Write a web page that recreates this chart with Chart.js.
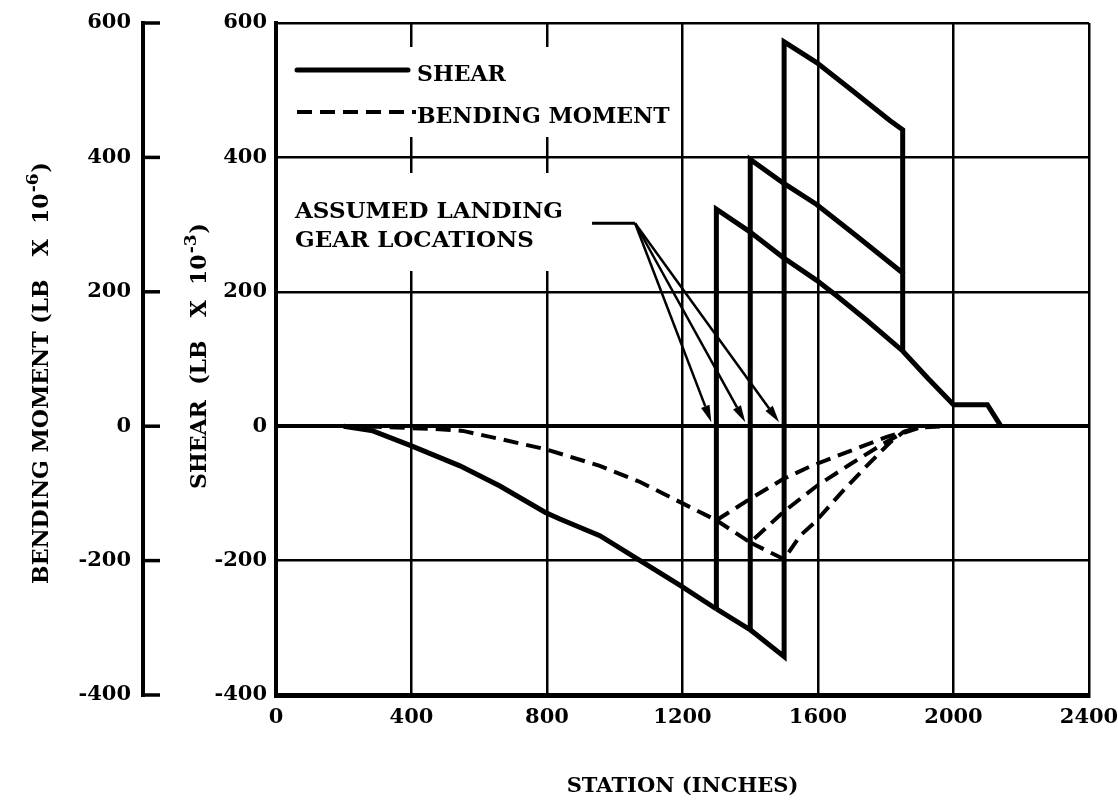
<!DOCTYPE html>
<html>
<head>
<meta charset="utf-8">
<script src="https://cdn.jsdelivr.net/npm/chart.js@4.4.1/dist/chart.umd.min.js"></script>
<style>
  html, body { margin: 0; padding: 0; background: #fff; }
  canvas { display: block; }
</style>
</head>
<body>
<canvas id="loadsChart" width="1118" height="804"></canvas>
<script>
// stations in inches, shear in lb x 10^-3, bending moment in lb x 10^-6
const xTicks = [0, 400, 800, 1200, 1600, 2000, 2400];
const yTicks = [-400, -200, 0, 200, 400, 600];

// shear: common part up to the first gear, then one branch per gear position
const shearLeadX = [200, 286, 398, 543, 661, 794, 838, 956, 1075, 1193, 1300];
const shearLeadY = [0, -7, -29, -59, -89, -128, -138, -163, -200, -237, -272];
const shear1300X = [1300, 1300, 1397, 1497, 1596, 1655, 1743, 1850, 1925, 2000, 2100, 2140];
const shear1300Y = [-272, 323, 290, 251, 217, 194, 158, 112, 71, 32, 32, 0];
const shear1400X = [1300, 1400, 1400, 1497, 1596, 1714, 1850, 1850];
const shear1400Y = [-272, -303, 397, 362, 330, 283, 228, 112];
const shear1500X = [1400, 1500, 1500, 1596, 1700, 1812, 1850, 1850];
const shear1500Y = [-303, -343, 572, 541, 500, 455, 441, 228];

// bending moment, same idea
const momentLeadX = [200, 300, 463, 552, 661, 794, 956, 1075, 1193, 1300];
const momentLeadY = [0, -1, -4, -7, -19, -34, -59, -83, -113, -140];
const moment1300X = [1300, 1400, 1496, 1576, 1694, 1803, 1861, 1900, 1980];
const moment1300Y = [-140, -108, -79, -60, -37, -16, -7, -2, 0];
const moment1400X = [1300, 1400, 1497, 1596, 1694, 1783, 1842, 1900];
const moment1400Y = [-140, -173, -128, -89, -57, -29, -12, -2];
const moment1500X = [1400, 1500, 1547, 1591, 1665, 1744, 1813, 1851, 1900];
const moment1500Y = [-173, -198, -163, -143, -101, -59, -24, -9, -2];

const gearStations = [1300, 1400, 1500];
const leaderX = [933, 1060];
const leaderY = 302;

const FONT = "'DejaVu Serif', 'Liberation Serif', serif";
const INK = '#000';

const pts = (xs, ys) => xs.map((x, i) => ({ x, y: ys[i] }));

const solid = (xs, ys) => ({
  data: pts(xs, ys),
  borderColor: INK,
  borderWidth: 5,
  pointRadius: 0,
  tension: 0,
  borderJoinStyle: 'miter',
});

const dashed = (xs, ys) => ({
  data: pts(xs, ys),
  borderColor: INK,
  borderWidth: 4,
  borderDash: [15, 8],
  pointRadius: 0,
  tension: 0,
});

// rotated title with a raised exponent, reads bottom to top
function verticalTitle(ctx, cx, cy, base, sup, tail) {
  const big = `bold 22px ${FONT}`;
  const small = `bold 17px ${FONT}`;
  ctx.font = big;
  const wBase = ctx.measureText(base).width;
  const wTail = ctx.measureText(tail).width;
  ctx.font = small;
  const wSup = ctx.measureText(sup).width;
  const total = wBase + wSup + wTail + 2;
  ctx.save();
  ctx.translate(cx, cy);
  ctx.rotate(-Math.PI / 2);
  ctx.textAlign = 'left';
  ctx.textBaseline = 'alphabetic';
  let p = -total / 2;
  ctx.font = big;
  ctx.fillText(base, p, 8);
  p += wBase + 1;
  ctx.font = small;
  ctx.fillText(sup, p, -2);
  p += wSup + 1;
  ctx.font = big;
  ctx.fillText(tail, p, 8);
  ctx.restore();
}

// left hand bending moment scale, same spacing as the shear scale
const momentAxis = {
  id: 'momentAxis',
  afterDraw(chart) {
    const { ctx, scales } = chart;
    const y = scales.y;
    const axisX = 143;
    ctx.save();
    ctx.strokeStyle = INK;
    ctx.fillStyle = INK;
    ctx.lineCap = 'butt';
    ctx.lineWidth = 4;
    ctx.beginPath();
    ctx.moveTo(axisX, y.getPixelForValue(600) - 2);
    ctx.lineTo(axisX, y.getPixelForValue(-400) + 2);
    ctx.stroke();

    ctx.font = `bold 21px ${FONT}`;
    ctx.textAlign = 'right';
    ctx.textBaseline = 'middle';
    yTicks.forEach((v) => {
      const py = y.getPixelForValue(v);
      ctx.lineWidth = 3.5;
      ctx.beginPath();
      ctx.moveTo(axisX, py);
      ctx.lineTo(axisX + 17, py);
      ctx.stroke();
      ctx.fillText(String(v), axisX - 12, py);
    });

    verticalTitle(ctx, 40, 373, 'BENDING MOMENT (LB   X  10', '-6', ')');
    verticalTitle(ctx, 198, 356, 'SHEAR  (LB   X  10', '-3', ')');
    ctx.restore();
  },
};

const notes = {
  id: 'notes',
  afterDatasetsDraw(chart) {
    const { ctx, scales, chartArea } = chart;
    const { x, y } = scales;
    const L = chartArea.left;
    const T = chartArea.top;
    ctx.save();

    // legend
    ctx.fillStyle = '#fff';
    ctx.fillRect(L + 4, T + 24, 396, 90);
    ctx.strokeStyle = INK;
    ctx.lineWidth = 5;
    ctx.lineCap = 'round';
    ctx.beginPath();
    ctx.moveTo(L + 21, T + 47);
    ctx.lineTo(L + 132, T + 47);
    ctx.stroke();
    ctx.lineWidth = 4;
    ctx.lineCap = 'butt';
    ctx.setLineDash([15, 8]);
    ctx.beginPath();
    ctx.moveTo(L + 21, T + 89);
    ctx.lineTo(L + 140, T + 89);
    ctx.stroke();
    ctx.setLineDash([]);
    ctx.fillStyle = INK;
    ctx.font = `bold 22px ${FONT}`;
    ctx.textAlign = 'left';
    ctx.textBaseline = 'alphabetic';
    ctx.fillText('SHEAR', L + 141, T + 58);
    ctx.fillText('BENDING MOMENT', L + 141, T + 100);

    // gear location note
    ctx.font = `bold 23px ${FONT}`;
    ctx.fillStyle = '#fff';
    ctx.fillRect(L + 10, T + 150, 300, 98);
    ctx.fillStyle = INK;
    ctx.fillText('ASSUMED LANDING', L + 19, T + 195);
    ctx.fillText('GEAR LOCATIONS', L + 19, T + 224);

    const ly = y.getPixelForValue(leaderY);
    const kx = x.getPixelForValue(leaderX[1]);
    ctx.lineWidth = 3;
    ctx.lineCap = 'butt';
    ctx.beginPath();
    ctx.moveTo(x.getPixelForValue(leaderX[0]), ly);
    ctx.lineTo(kx, ly);
    ctx.stroke();

    ctx.lineWidth = 2.5;
    gearStations.forEach((g) => {
      const tx = x.getPixelForValue(g) - 5;
      const ty = y.getPixelForValue(0) - 4;
      const ang = Math.atan2(ty - ly, tx - kx);
      const len = 17;
      const half = 4.5;
      const bx = tx - len * Math.cos(ang);
      const by = ty - len * Math.sin(ang);
      ctx.beginPath();
      ctx.moveTo(kx, ly);
      ctx.lineTo(bx, by);
      ctx.stroke();
      ctx.beginPath();
      ctx.moveTo(tx, ty);
      ctx.lineTo(bx - half * Math.sin(ang), by + half * Math.cos(ang));
      ctx.lineTo(bx + half * Math.sin(ang), by - half * Math.cos(ang));
      ctx.closePath();
      ctx.fill();
    });
    ctx.restore();
  },
};

new Chart(document.getElementById('loadsChart'), {
  type: 'line',
  data: {
    datasets: [
      solid(shearLeadX, shearLeadY),
      solid(shear1300X, shear1300Y),
      solid(shear1400X, shear1400Y),
      solid(shear1500X, shear1500Y),
      dashed(momentLeadX, momentLeadY),
      dashed(moment1300X, moment1300Y),
      dashed(moment1400X, moment1400Y),
      dashed(moment1500X, moment1500Y),
    ],
  },
  options: {
    responsive: false,
    animation: false,
    events: [],
    layout: { padding: { left: 180, right: 29, top: 23, bottom: 0 } },
    scales: {
      x: {
        type: 'linear',
        min: xTicks[0],
        max: xTicks[xTicks.length - 1],
        afterBuildTicks: (scale) => { scale.ticks = xTicks.map((v) => ({ value: v })); },
        afterFit: (scale) => {
          scale.height = 109;
          scale.paddingLeft = 0;
          scale.paddingRight = 0;
        },
        grid: { color: INK, lineWidth: 2.5, drawTicks: false },
        border: { color: INK, width: 5 },
        ticks: {
          color: INK,
          padding: 10,
          maxRotation: 0,
          callback: (v) => String(v),
          font: { family: FONT, size: 21, weight: 'bold' },
        },
        title: {
          display: true,
          text: 'STATION (INCHES)',
          color: INK,
          font: { family: FONT, size: 21, weight: 'bold' },
          padding: { top: 0, bottom: 5 },
        },
      },
      y: {
        min: yTicks[0],
        max: yTicks[yTicks.length - 1],
        afterBuildTicks: (scale) => { scale.ticks = yTicks.map((v) => ({ value: v })); },
        afterFit: (scale) => {
          scale.width = 96;
          scale.paddingTop = 0;
          scale.paddingBottom = 0;
        },
        grid: {
          color: INK,
          lineWidth: (c) => (c.tick && c.tick.value === 0 ? 4 : 2.5),
          drawTicks: false,
        },
        border: { color: INK, width: 4 },
        ticks: {
          color: INK,
          padding: 9,
          callback: (v) => String(v),
          font: { family: FONT, size: 21, weight: 'bold' },
        },
        title: { display: false },
      },
    },
    plugins: {
      legend: { display: false },
      tooltip: { enabled: false },
    },
  },
  plugins: [momentAxis, notes],
});
</script>
</body>
</html>
